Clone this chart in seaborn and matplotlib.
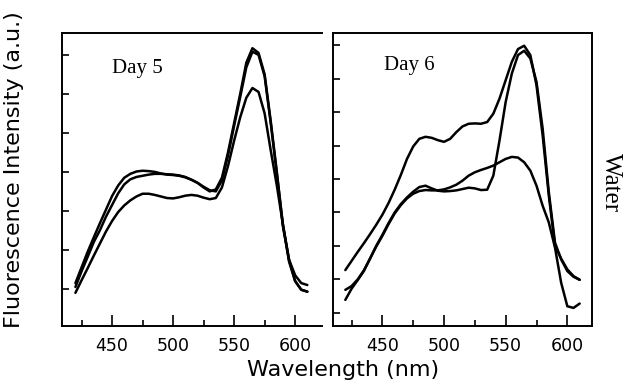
import numpy as np
import pandas as pd
import seaborn as sns
from matplotlib import pyplot as plt
from matplotlib.ticker import MultipleLocator

sns.set_style('ticks')
plt.rcParams['font.family'] = ['DejaVu Sans']
plt.rcParams['text.color'] = 'black'
plt.rcParams['xtick.color'] = 'black'
plt.rcParams['ytick.color'] = 'black'

# wavelength grid (nm), shared by all curves
wl = [420, 425, 430, 435, 440, 445, 450, 455, 460, 465, 470, 475, 480, 485, 490,
      495, 500, 505, 510, 515, 520, 525, 530, 535, 540, 545, 550, 555, 560, 565,
      570, 575, 580, 585, 590, 595, 600, 605, 610]

# Day 5 - three spectra
day5_a = [1.15, 1.55, 1.95, 2.32, 2.68, 3.03, 3.38, 3.65, 3.85, 3.95, 4.01, 4.03, 4.02, 4.0, 3.96,
          3.93, 3.92, 3.9, 3.86, 3.8, 3.72, 3.6, 3.5, 3.55, 3.85, 4.5, 5.25, 6.0, 6.8, 7.17,
          7.05, 6.5, 5.3, 4.0, 2.6, 1.75, 1.35, 1.15, 1.1]
day5_b = [1.05, 1.45, 1.82, 2.2, 2.5, 2.85, 3.15, 3.45, 3.68, 3.81, 3.87, 3.9, 3.93, 3.95, 3.95,
          3.94, 3.93, 3.91, 3.87, 3.8, 3.72, 3.62, 3.53, 3.5, 3.78, 4.42, 5.18, 5.92, 6.68, 7.08,
          7.0, 6.45, 5.25, 3.95, 2.65, 1.75, 1.2, 0.98, 0.93]
day5_c = [0.9, 1.22, 1.53, 1.85, 2.16, 2.47, 2.74, 2.97, 3.14, 3.27, 3.37, 3.44, 3.44, 3.41, 3.37,
          3.33, 3.32, 3.35, 3.39, 3.41, 3.39, 3.34, 3.3, 3.33, 3.6, 4.15, 4.8, 5.4, 5.9, 6.15,
          6.05, 5.5, 4.55, 3.65, 2.65, 1.7, 1.2, 0.98, 0.93]

# Day 6 - three spectra
day6_a = [2.28, 2.55, 2.82, 3.08, 3.35, 3.63, 3.93, 4.28, 4.68, 5.12, 5.6, 5.97, 6.2, 6.26, 6.23,
          6.16, 6.11, 6.2, 6.4, 6.57, 6.65, 6.66, 6.65, 6.7, 6.95, 7.4, 7.95, 8.5, 8.88, 8.98,
          8.7, 7.8, 6.3, 4.5, 3.0, 2.62, 2.3, 2.1, 1.99]
day6_b = [1.39, 1.72, 1.98, 2.25, 2.62, 3.0, 3.33, 3.68, 4.0, 4.25, 4.45, 4.62, 4.76, 4.8, 4.72,
          4.65, 4.63, 4.64, 4.66, 4.7, 4.74, 4.72, 4.67, 4.68, 5.1, 6.15, 7.3, 8.15, 8.7, 8.83,
          8.6, 7.9, 6.5, 4.6, 3.1, 2.6, 2.25, 2.08, 1.99]
day6_c = [1.69, 1.8, 2.0, 2.27, 2.62, 2.98, 3.3, 3.65, 3.97, 4.22, 4.42, 4.56, 4.64, 4.67, 4.66,
          4.66, 4.69, 4.75, 4.83, 4.95, 5.1, 5.2, 5.27, 5.33, 5.4, 5.5, 5.6, 5.66, 5.64, 5.5,
          5.25, 4.8, 4.2, 3.7, 2.95, 1.9, 1.2, 1.15, 1.28]

def long_df(curves):
    frames = []
    for name, vals in curves.items():
        frames.append(pd.DataFrame({'wl': wl, 'val': vals, 'sample': name}))
    return pd.concat(frames, axis=0)

df5 = long_df({'a': day5_a, 'b': day5_b, 'c': day5_c})
df6 = long_df({'a': day6_a, 'b': day6_b, 'c': day6_c})

fig = plt.figure(figsize=(6.32, 3.91), dpi=100)
ax1 = fig.add_axes([62/632, 65/391, 260/632, 293/391])
ax2 = fig.add_axes([333/632, 65/391, 259/632, 293/391])

for ax, d in [(ax1, df5), (ax2, df6)]:
    sns.lineplot(data=d, x='wl', y='val', units='sample', estimator=None,
                 color='black', lw=1.8, ax=ax, legend=False)
    ax.set_xlabel('')
    ax.set_ylabel('')
    ax.xaxis.set_major_locator(MultipleLocator(50))
    ax.xaxis.set_minor_locator(MultipleLocator(25))
    ax.yaxis.set_major_locator(MultipleLocator(1))
    ax.set_yticklabels([])
    ax.tick_params(axis='x', which='major', direction='in', length=8, width=1.2,
                   labelsize=12.5, pad=8, top=False, colors='black')
    ax.tick_params(axis='x', which='minor', direction='in', length=4, width=1.2, top=False)
    ax.tick_params(axis='y', which='major', direction='in', length=5, width=1.2, right=False)
    for s in ax.spines.values():
        s.set_linewidth(1.4)
        s.set_color('black')

ax1.set_xlim(409, 622)
ax1.set_ylim(0.05, 7.56)
ax1.spines['right'].set_visible(False)
ax2.set_xlim(410, 620)
ax2.set_ylim(0.61, 9.36)

ax1.text(0.29, 0.88, 'Day 5', transform=ax1.transAxes, ha='center', va='center',
         family='Liberation Serif', fontsize=15)
ax2.text(0.293, 0.89, 'Day 6', transform=ax2.transAxes, ha='center', va='center',
         family='Liberation Serif', fontsize=15)

fig.text(0.967, 0.532, 'Water', rotation=270, ha='center', va='center',
         family='Liberation Serif', fontsize=18)
fig.text(0.022, 0.567, 'Fluorescence Intensity (a.u.)', rotation=90, ha='center',
         va='center', fontsize=16)
fig.text(0.543, 0.054, 'Wavelength (nm)', ha='center', va='center', fontsize=16)

fig.savefig('out.png', dpi=100)
